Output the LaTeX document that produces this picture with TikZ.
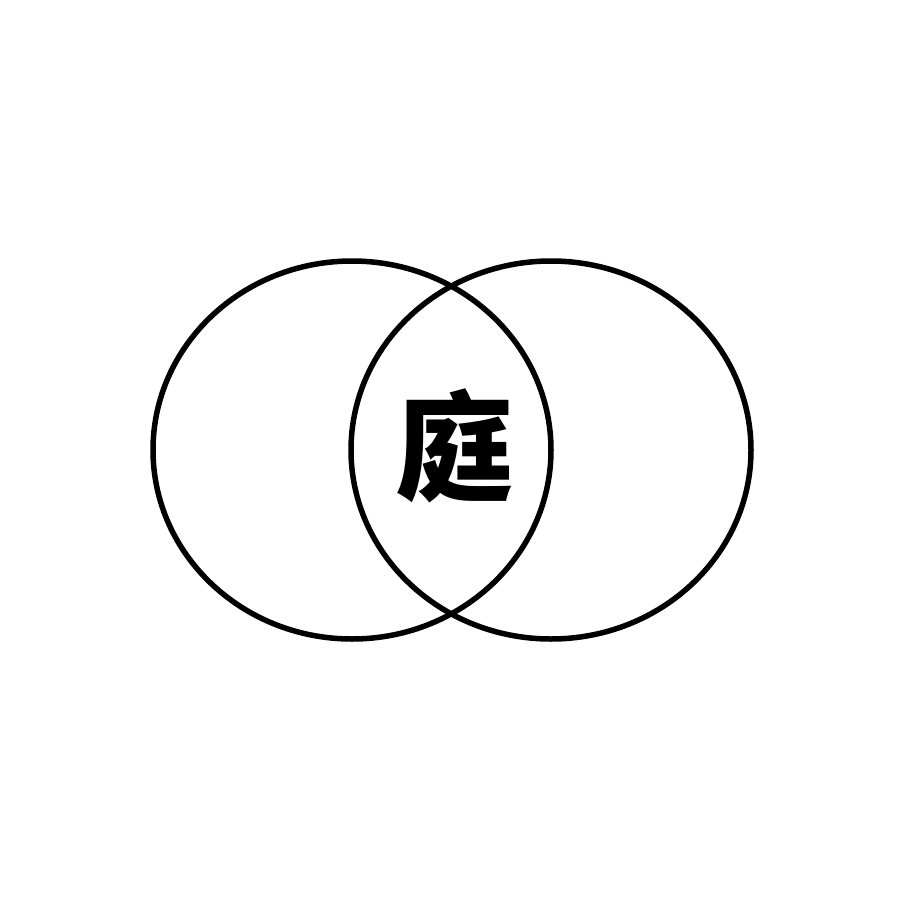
\documentclass[tikz,border=0pt]{standalone}
\usepackage{fontspec}
\newfontfamily\cjk{Noto Sans CJK SC}
\begin{document}
\begin{tikzpicture}[x=1pt,y=-1pt,
  ring/.style={draw=black,line width=5.5pt}]
\useasboundingbox (0,0) rectangle (897,897);
\fill[white] (0,0) rectangle (897,897);
\draw[ring] (352,450) ellipse [x radius=199pt, y radius=189pt];
\draw[ring] (551,450) ellipse [x radius=200pt, y radius=189pt];
\node (c) at (454,446) {\cjk\bfseries\fontsize{118pt}{118pt}\selectfont 庭};
\end{tikzpicture}
\end{document}
